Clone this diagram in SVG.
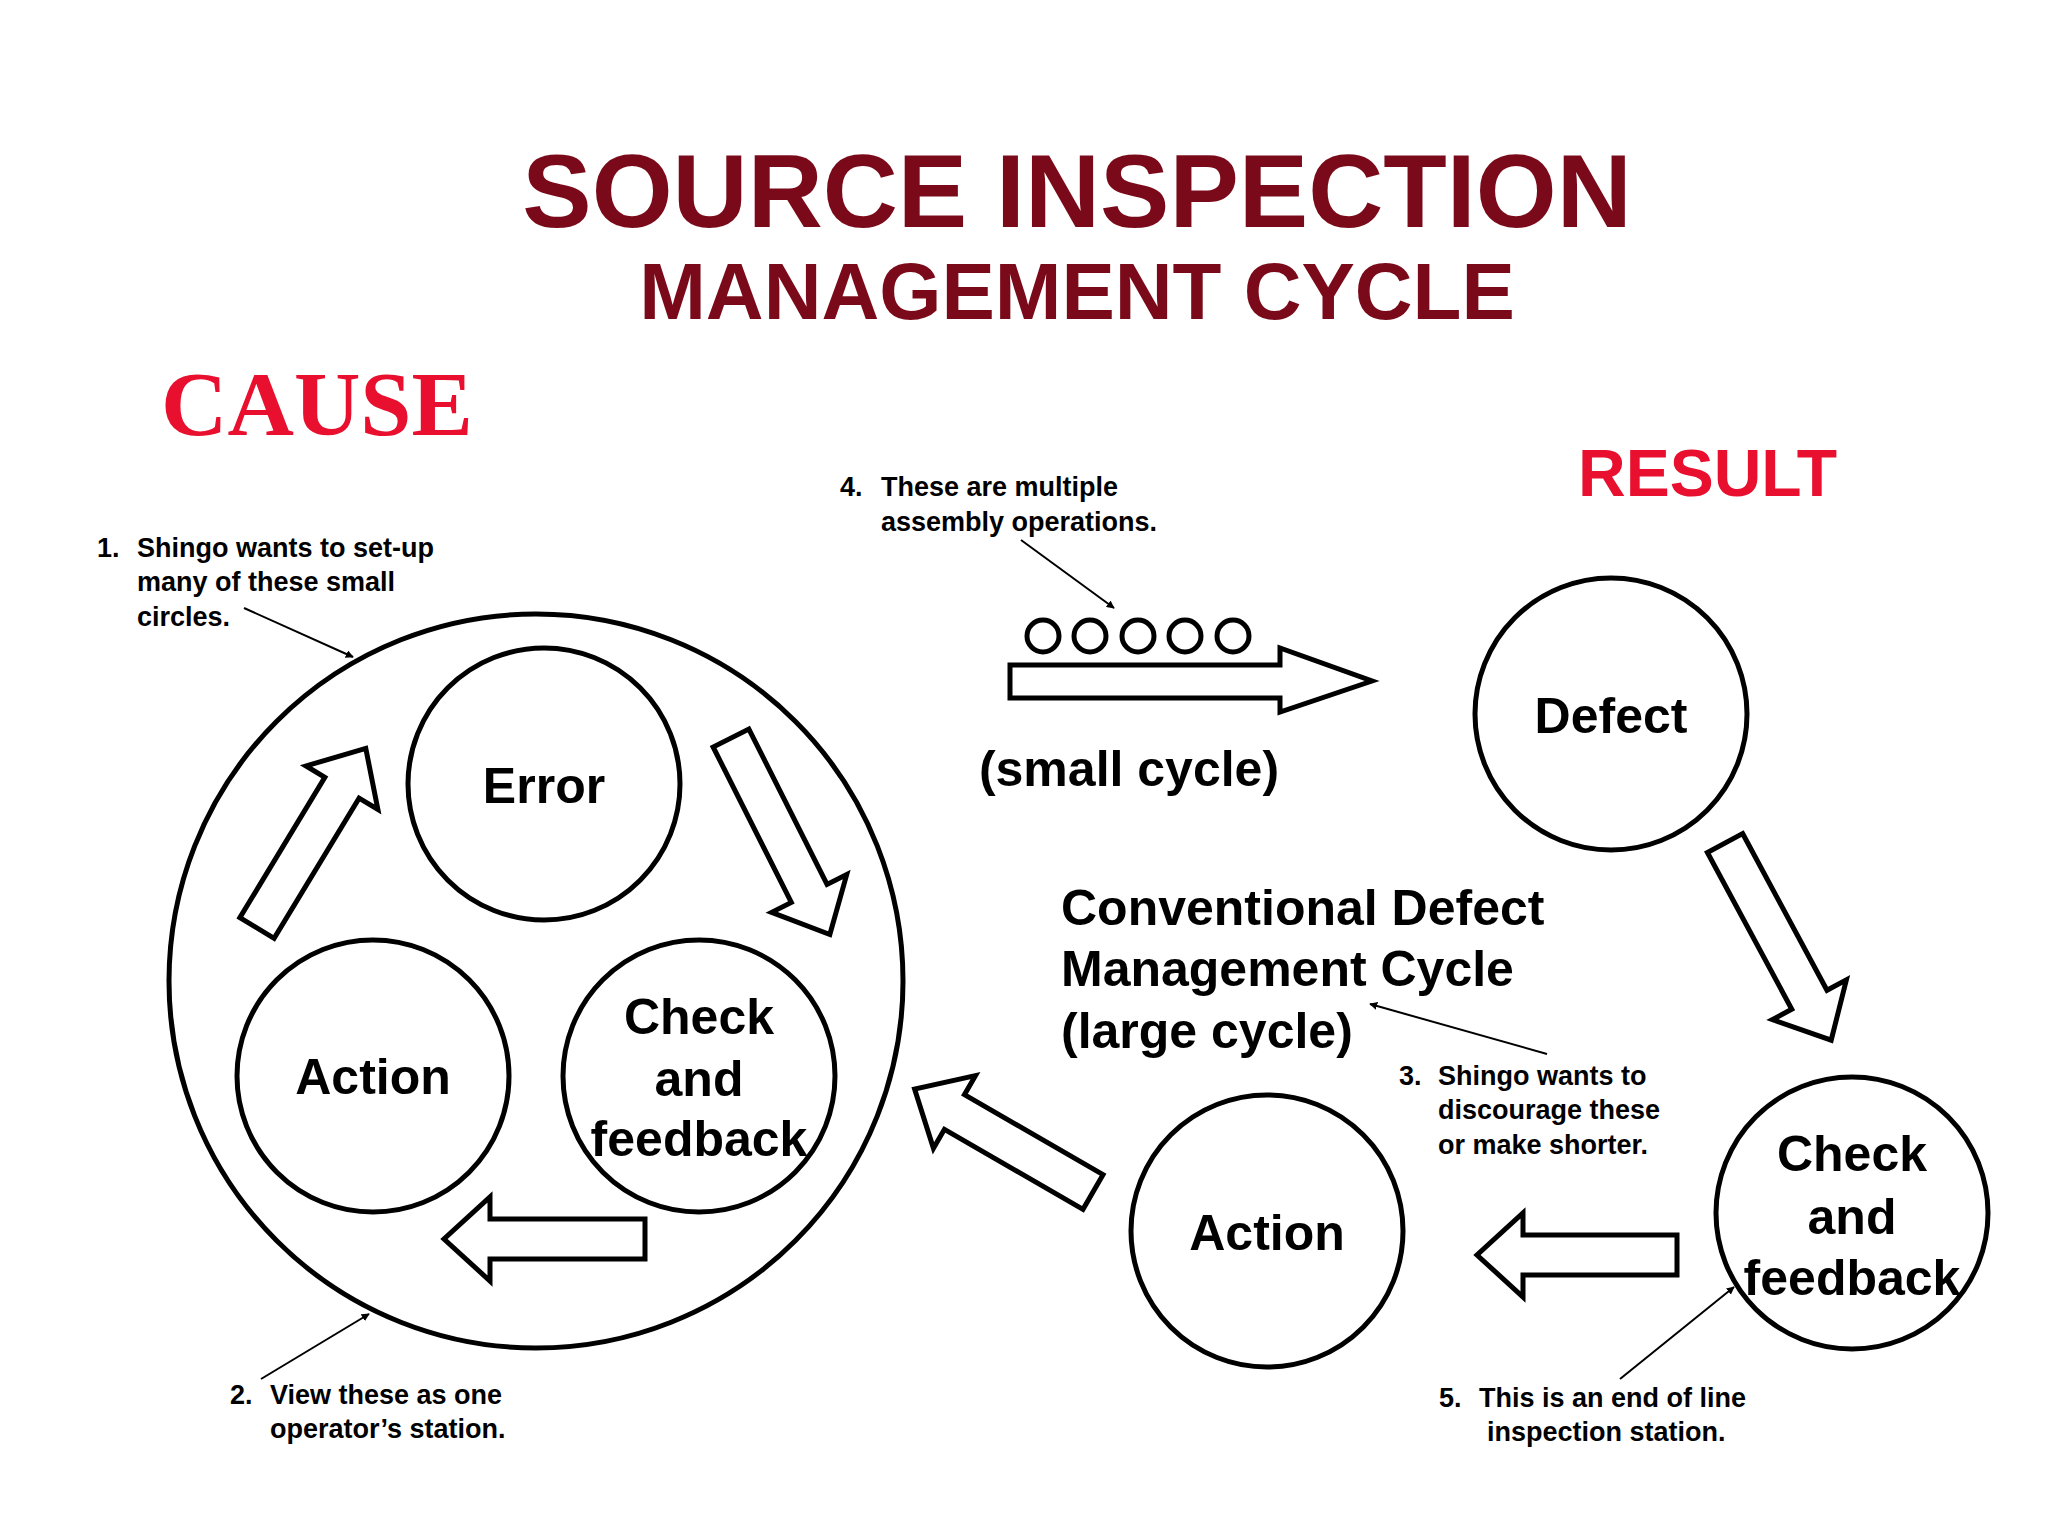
<svg xmlns="http://www.w3.org/2000/svg" width="2048" height="1536" viewBox="0 0 2048 1536">
<style>
.c{fill:#fff;stroke:#000;stroke-width:5}
.a{fill:#fff;stroke:#000;stroke-width:5;stroke-linejoin:miter}
.n{font-family:"Liberation Sans",Arial,sans-serif;font-weight:bold;font-size:50px;text-anchor:middle}
.t{font-family:"Liberation Sans",Arial,sans-serif;font-weight:bold;font-size:27px}
.l{stroke:#000;stroke-width:2;fill:none;marker-end:url(#m)}
</style>
<defs><marker id="m" viewBox="0 0 10 10" refX="9" refY="5" markerWidth="8" markerHeight="8" orient="auto" markerUnits="userSpaceOnUse"><path d="M0,0 L10,5 L0,10 Z"/></marker></defs>
<rect width="2048" height="1536" fill="#fff"/>
<g id="title" font-family="Liberation Sans,Arial,sans-serif" font-weight="bold" fill="#7a0a1a" text-anchor="middle">
<text x="1077" y="227" font-size="104">SOURCE INSPECTION</text>
<text x="1077" y="319" font-size="80">MANAGEMENT CYCLE</text>
</g>
<text id="cause" x="161" y="435" font-family="Liberation Serif,serif" font-weight="bold" font-size="92" fill="#e8102e">CAUSE</text>
<text id="result" x="1578" y="496" font-family="Liberation Sans,sans-serif" font-weight="bold" font-size="66" fill="#e8102e">RESULT</text>
<g id="station"><circle class="c" cx="536" cy="981" r="367"/></g>
<g id="error"><circle class="c" cx="544" cy="784" r="136"/><text class="n" x="544" y="803">Error</text></g>
<g id="action1"><circle class="c" cx="373" cy="1076" r="136"/><text class="n" x="373" y="1094">Action</text></g>
<g id="check1"><circle class="c" cx="699" cy="1076" r="136"/><text class="n" x="699" y="1034">Check</text><text class="n" x="699" y="1096">and</text><text class="n" x="699" y="1156">feedback</text></g>
<g id="defect"><circle class="c" cx="1611" cy="714" r="136"/><text class="n" x="1611" y="733">Defect</text></g>
<g id="check2"><circle class="c" cx="1852" cy="1213" r="136"/><text class="n" x="1852" y="1171">Check</text><text class="n" x="1852" y="1234">and</text><text class="n" x="1852" y="1295">feedback</text></g>
<g id="action2"><circle class="c" cx="1267" cy="1231" r="136"/><text class="n" x="1267" y="1250">Action</text></g>
<g id="smallops">
<circle class="c" cx="1043" cy="636" r="16" stroke-width="3"/><circle class="c" cx="1090" cy="636" r="16" stroke-width="3"/><circle class="c" cx="1138" cy="636" r="16" stroke-width="3"/><circle class="c" cx="1185" cy="636" r="16" stroke-width="3"/><circle class="c" cx="1233" cy="636" r="16" stroke-width="3"/>
</g>
<g id="connectors">
<path class="a" transform="translate(257,928) rotate(-58.8)" d="M0,-20 H164 V-42 L210,0 L164,42 V20 H0 Z"/>
<path class="a" transform="translate(731,738) rotate(63.3)" d="M0,-20 H174 V-42 L220,0 L174,42 V20 H0 Z"/>
<path class="a" transform="translate(645,1239) rotate(180)" d="M0,-20 H155 V-42 L201,0 L155,42 V20 H0 Z"/>
<path class="a" transform="translate(1093,1192) rotate(210)" d="M0,-20 H160 V-42 L206,0 L160,42 V20 H0 Z"/>
<path class="a" transform="translate(1725,843) rotate(61.7)" d="M0,-20 H178 V-42 L224,0 L178,42 V20 H0 Z"/>
<path class="a" transform="translate(1677,1255) rotate(180)" d="M0,-20 H154 V-42 L200,0 L154,42 V20 H0 Z"/>
<path class="a" d="M1010,665 H1280 V648 L1372,681 L1280,712 V698 H1010 Z"/>
<line class="l" x1="244" y1="608" x2="353" y2="657"/>
<line class="l" x1="261" y1="1379" x2="369" y2="1314"/>
<line class="l" x1="1547" y1="1054" x2="1370" y2="1004"/>
<line class="l" x1="1021" y1="540" x2="1114" y2="608"/>
<line class="l" x1="1620" y1="1379" x2="1734" y2="1287"/>
</g>
<g id="labels">
<text class="n" x="1129" y="786" font-size="50">(small cycle)</text>
<g class="n" style="text-anchor:start"><text x="1061" y="925">Conventional Defect</text><text x="1061" y="986">Management Cycle</text><text x="1061" y="1048">(large cycle)</text></g>
<g class="t"><text x="97" y="557">1.</text><text x="137" y="557">Shingo wants to set-up</text><text x="137" y="591">many of these small</text><text x="137" y="626">circles.</text></g>
<g class="t"><text x="230" y="1404">2.</text><text x="270" y="1404">View these as one</text><text x="270" y="1438">operator’s station.</text></g>
<g class="t"><text x="1399" y="1085">3.</text><text x="1438" y="1085">Shingo wants to</text><text x="1438" y="1119">discourage these</text><text x="1438" y="1154">or make shorter.</text></g>
<g class="t"><text x="840" y="496">4.</text><text x="881" y="496">These are multiple</text><text x="881" y="531">assembly operations.</text></g>
<g class="t"><text x="1439" y="1407">5.</text><text x="1479" y="1407">This is an end of line</text><text x="1487" y="1441">inspection station.</text></g>
</g>
</svg>
